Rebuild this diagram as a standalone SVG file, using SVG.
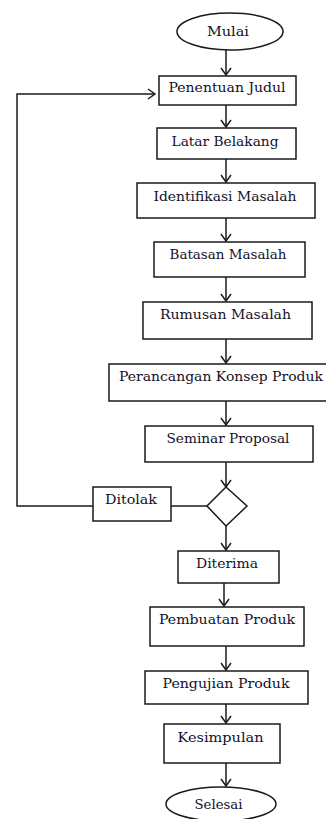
<svg xmlns="http://www.w3.org/2000/svg" width="326" height="819" viewBox="0 0 326 819">
<style>
.b{fill:#fff;stroke:#1a1a1a;stroke-width:1.5}
.t{font-family:"DejaVu Serif","Liberation Serif",serif;font-size:13px;fill:#14102a;text-anchor:middle}
.c{fill:none;stroke:#1a1a1a;stroke-width:1.5}
</style>
<defs>
<marker id="a" markerWidth="12" markerHeight="12" refX="10" refY="6" orient="auto" markerUnits="userSpaceOnUse">
<polyline points="3,1 10,6 3,11" fill="none" stroke="#1a1a1a" stroke-width="1.5"/>
</marker>
</defs>
<rect width="326" height="819" fill="#fff"/>
<g id="connectors">
<line class="c" x1="226" y1="50" x2="226" y2="75" marker-end="url(#a)"/>
<line class="c" x1="226" y1="105" x2="226" y2="127" marker-end="url(#a)"/>
<line class="c" x1="226" y1="159" x2="226" y2="182" marker-end="url(#a)"/>
<line class="c" x1="226" y1="218" x2="226" y2="241" marker-end="url(#a)"/>
<line class="c" x1="226" y1="277" x2="226" y2="301" marker-end="url(#a)"/>
<line class="c" x1="226" y1="339" x2="226" y2="363" marker-end="url(#a)"/>
<line class="c" x1="226" y1="401" x2="226" y2="425" marker-end="url(#a)"/>
<line class="c" x1="226" y1="462" x2="226" y2="487" marker-end="url(#a)"/>
<line class="c" x1="226" y1="526" x2="226" y2="550" marker-end="url(#a)"/>
<line class="c" x1="224" y1="583" x2="224" y2="606" marker-end="url(#a)"/>
<line class="c" x1="226" y1="646" x2="226" y2="670" marker-end="url(#a)"/>
<line class="c" x1="226" y1="704" x2="226" y2="723" marker-end="url(#a)"/>
<line class="c" x1="226" y1="763" x2="226" y2="786" marker-end="url(#a)"/>
<line class="c" x1="171" y1="506" x2="207" y2="506"/>
<polyline class="c" points="93,506 17,506 17,94 155,94" marker-end="url(#a)"/>
</g>
<g id="mulai"><ellipse class="b" cx="230" cy="31.5" rx="53" ry="18.5"/><text class="t" x="228" y="35.5" textLength="42" lengthAdjust="spacingAndGlyphs">Mulai</text></g>
<g id="penentuan"><rect class="b" x="159" y="76" width="137" height="29"/><text class="t" x="227" y="91.5" textLength="117" lengthAdjust="spacingAndGlyphs">Penentuan Judul</text></g>
<g id="latar"><rect class="b" x="157" y="128" width="139" height="31"/><text class="t" x="225" y="145.5" textLength="107" lengthAdjust="spacingAndGlyphs">Latar Belakang</text></g>
<g id="identifikasi"><rect class="b" x="137" y="183" width="178" height="35"/><text class="t" x="225" y="200.5" textLength="143" lengthAdjust="spacingAndGlyphs">Identifikasi Masalah</text></g>
<g id="batasan"><rect class="b" x="154" y="242" width="151" height="35"/><text class="t" x="228" y="258.5" textLength="117" lengthAdjust="spacingAndGlyphs">Batasan Masalah</text></g>
<g id="rumusan"><rect class="b" x="143" y="302" width="169" height="37"/><text class="t" x="225.5" y="318.5" textLength="131" lengthAdjust="spacingAndGlyphs">Rumusan Masalah</text></g>
<g id="perancangan"><rect class="b" x="109" y="364" width="240" height="37"/><text class="t" x="221" y="380.5" textLength="204" lengthAdjust="spacingAndGlyphs">Perancangan Konsep Produk</text></g>
<g id="seminar"><rect class="b" x="145" y="426" width="168" height="36"/><text class="t" x="228" y="442.5" textLength="123" lengthAdjust="spacingAndGlyphs">Seminar Proposal</text></g>
<g id="keputusan"><polygon class="b" points="226,487 247,506 226,526 207,506"/></g>
<g id="ditolak"><rect class="b" x="93" y="487" width="78" height="34"/><text class="t" x="131" y="503.5" textLength="52" lengthAdjust="spacingAndGlyphs">Ditolak</text></g>
<g id="diterima"><rect class="b" x="178" y="551" width="101" height="32"/><text class="t" x="227" y="567.5" textLength="62" lengthAdjust="spacingAndGlyphs">Diterima</text></g>
<g id="pembuatan"><rect class="b" x="150" y="607" width="154" height="39"/><text class="t" x="227" y="623.5" textLength="136" lengthAdjust="spacingAndGlyphs">Pembuatan Produk</text></g>
<g id="pengujian"><rect class="b" x="145" y="671" width="163" height="33"/><text class="t" x="226" y="687.5" textLength="127" lengthAdjust="spacingAndGlyphs">Pengujian Produk</text></g>
<g id="kesimpulan"><rect class="b" x="164" y="724" width="116" height="39"/><text class="t" x="220.5" y="741.5" textLength="86" lengthAdjust="spacingAndGlyphs">Kesimpulan</text></g>
<g id="selesai"><ellipse class="b" cx="221" cy="804" rx="55" ry="17"/><text class="t" x="218.5" y="808.5" textLength="48" lengthAdjust="spacingAndGlyphs">Selesai</text></g>
</svg>
